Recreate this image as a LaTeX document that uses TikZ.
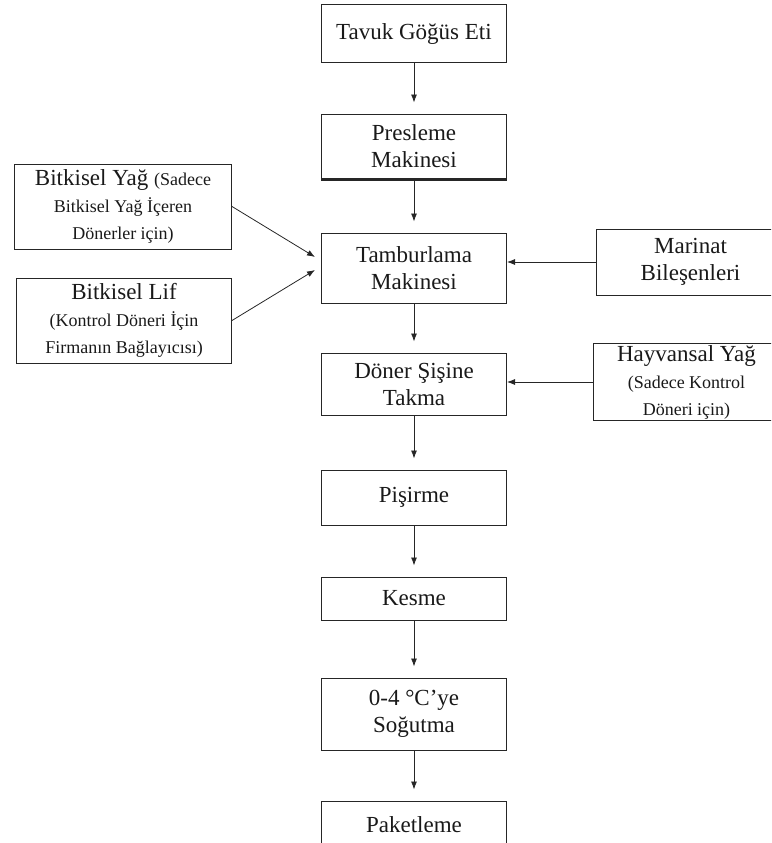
\documentclass[tikz,border=0pt]{standalone}
\usepackage{fontspec}
\setmainfont{Liberation Serif}
\usetikzlibrary{arrows.meta,positioning}
\newcommand{\bigtxt}{\fontsize{23}{27}\selectfont}
\newcommand{\smalltxt}{\fontsize{18}{21}\selectfont}

\begin{document}
\begin{tikzpicture}[
   x=1pt, y=-1pt,
   box/.style={rectangle, draw=black!85, line width=1pt, align=center,
               inner sep=2pt, minimum width=185pt, font=\bigtxt, text=black!90},
   sidebox/.style={box, minimum height=85pt},
   arr/.style={-{Latex[length=8pt,width=6pt]}, line width=0.8pt, draw=black!85},
   down/.style={arr, shorten >=11pt}
]
\clip (0,0) rectangle (771,843);
% process line
\node[box, minimum height=58pt] (tavuk) at (414,34) {Tavuk Göğüs Eti};
\node[box, below=50pt of tavuk, minimum height=65pt] (pres) {Presleme\\Makinesi};
\node[box, below=53pt of pres, minimum height=70pt] (tambur) {Tamburlama\\Makinesi};
\node[box, below=49pt of tambur, minimum height=62pt] (doner) {Döner Şişine\\Takma};
\node[box, below=54pt of doner, minimum height=55pt] (pisir) {Pişirme};
\node[box, below=51pt of pisir, minimum height=43pt] (kesme) {Kesme};
\node[box, below=57pt of kesme, minimum height=72pt] (sogut) {0-4 °C’ye\\Soğutma};
\node[box, below=50pt of sogut, minimum height=48pt] (paket) {Paketleme};
\draw[line width=2.2pt, black!85] (pres.south west) -- (pres.south east);

% inputs
\node[sidebox, left=89pt of tambur, yshift=61.5pt, minimum width=217pt] (yag)
     {Bitkisel Yağ {\smalltxt (Sadece}\\\smalltxt Bitkisel Yağ İçeren\\\smalltxt Dönerler için)};
\node[sidebox, left=89pt of tambur, yshift=-52.5pt, minimum width=215pt] (lif)
     {Bitkisel Lif\\\smalltxt (Kontrol Döneri İçin\\\smalltxt Firmanın Bağlayıcısı)};
\node[box, right=89pt of tambur, yshift=6pt, minimum width=188pt, minimum height=66pt] (marinat)
     {Marinat\\Bileşenleri};
\node[box, right=86pt of doner, yshift=2pt, minimum width=186pt, minimum height=62pt] (hayvan)
     {Hayvansal Yağ\\\smalltxt (Sadece Kontrol\\\smalltxt Döneri için)};

\coordinate (inyag) at ([shift={(-6pt,11pt)}]tambur.west);
\coordinate (inlif) at ([shift={(-6pt,-2pt)}]tambur.west);

\draw[down] (tavuk) -- (pres);
\draw[down] (pres) -- (tambur);
\draw[down] (tambur) -- (doner);
\draw[down] (doner) -- (pisir);
\draw[down] (pisir) -- (kesme);
\draw[down] (kesme) -- (sogut);
\draw[down] (sogut) -- (paket);
\draw[arr] (yag.east) -- (inyag);
\draw[arr] (lif.east) -- (inlif);
\draw[arr] (marinat.west) -- (marinat.west -| tambur.east);
\draw[arr] (hayvan.west) -- (hayvan.west -| doner.east);
\end{tikzpicture}
\end{document}
